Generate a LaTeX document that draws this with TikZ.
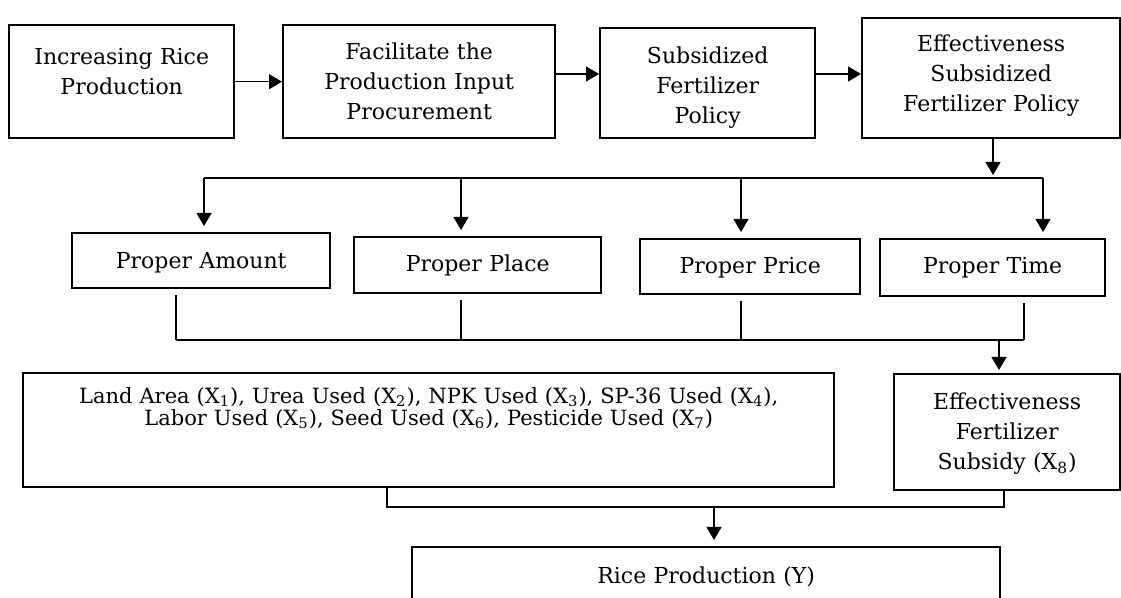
\documentclass[tikz,border=0pt]{standalone}
\usepackage{fontspec}
\setmainfont{DejaVu Serif}
\usetikzlibrary{arrows.meta}
\newcommand{\xvar}[1]{X\textsubscript{#1}}

\begin{document}
\begin{tikzpicture}[x=0.5pt,y=-0.5pt]
  \tikzset{box/.style = {draw,line width=1.2pt,anchor=north west,inner sep=0pt,align=center,font=\fontsize{11}{15}\selectfont}}
  \tikzset{dims/.style n args = {3}{text width=#1pt,text height=#2pt,text depth=#3pt}}
  \tikzset{link/.style = {line width=0.6pt}}
  \tikzset{arrow/.style = {link,-{Triangle[width=7.5pt,length=6.5pt]}}}
  \useasboundingbox (0,0) rectangle (1121,598);

	\node[box,dims={112.5}{19.5}{37}] (incr) at (8,24) {Increasing Rice\\Production};
	\node[box,dims={136}{17}{39.5}] (facil) at (282,24) {Facilitate the\\Production Input\\Procurement};
	\node[box,dims={107.5}{17.5}{37.5}] (policy) at (599,27) {Subsidized\\Fertilizer\\Policy};
	\node[box,dims={129}{16.5}{43.5}] (effpol) at (861,17) {Effectiveness\\Subsidized\\Fertilizer Policy};

	\node[box,dims={129}{17.5}{10}] (amount) at (71,232) {Proper Amount};
	\node[box,dims={123.5}{17}{11}] (place) at (353,236) {Proper Place};
	\node[box,dims={110}{17}{10.5}] (price) at (639,238) {Proper Price};
	\node[box,dims={112.5}{17}{11.5}] (time) at (879,238) {Proper Time};

	\node[box,dims={405.5}{15}{42},font=\fontsize{10.5}{11}\selectfont] (inputs) at (22,372)
	  {Land Area (\xvar{1}), Urea Used (\xvar{2}), NPK Used (\xvar{3}), SP-36 Used (\xvar{4}),\\Labor Used (\xvar{5}), Seed Used (\xvar{6}), Pesticide Used (\xvar{7})};
	\node[box,dims={113}{17.5}{40.5}] (subsidy) at (893,373) {Effectiveness\\Fertilizer\\Subsidy (\xvar{8})};
	\node[box,dims={294}{18}{16.5}] (rice) at (411,546) {Rice Production (Y)};

	% first row
	\coordinate (row) at (0,74);
	\draw[arrow] (incr.east) -- (facil.west);
	\draw[arrow] (facil.east |- row) -- (policy.west |- row);
	\draw[arrow] (policy.east |- row) -- (effpol.west |- row);

	% split into the four criteria
	\coordinate (split) at (993,178);
	\draw[arrow,shorten >=1.5pt] (effpol.south -| split) -- (split);
       \foreach \x/\n in {204/amount,461/place,741/price,1043/time}{
    \coordinate (\n-in) at (\x,178);
    \draw[arrow,shorten >=3pt] (\n-in) -- (\n.north -| \n-in);}
	\draw[link] (amount-in) -- (time-in);

	% criteria to subsidy
       \foreach \x/\n in {176/amount,461/place,741/price,1024/time}{
    \coordinate (\n-out) at (\x,340);
    \draw[link,shorten <=3pt] (\n.south -| \n-out) -- (\n-out);}
	\draw[link] (amount-out) -- (time-out);
	\coordinate (merge) at (999,340);
	\draw[arrow,shorten >=1.5pt] (merge) -- (subsidy.north -| merge);

	% inputs to production
	\coordinate (inputs-out) at (387,507);
	\coordinate (subsidy-out) at (1004,507);
	\draw[link] (inputs.south -| inputs-out) -- (inputs-out) -- (subsidy-out) -- (subsidy.south -| subsidy-out);
	\coordinate (join) at (714,507);
	\draw[arrow,shorten >=3pt] (join) -- (rice.north -| join);
\end{tikzpicture}
\end{document}
